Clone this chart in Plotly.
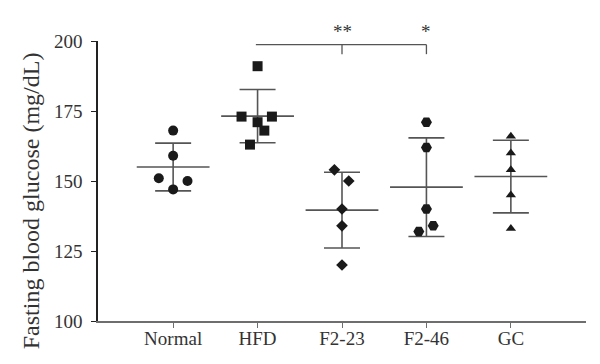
import numpy as np
import plotly.graph_objects as go

# ---- data ----
groups = ["Normal", "HFD", "F2-23", "F2-46", "GC"]
normal = [168, 159, 151, 150, 147]
hfd = [191, 173, 173, 171, 168, 163]
f2_23 = [154, 150, 140, 134, 120]
f2_46 = [171, 162, 140, 134, 132]
gc = [166, 160, 154, 145, 133]
values = [normal, hfd, f2_23, f2_46, gc]

# horizontal scatter offsets of points within each group (category units)
normal_off = [0, 0, -0.17, 0.17, 0]
hfd_off = [0, -0.19, 0.17, 0, 0.08, -0.09]
f2_23_off = [-0.09, 0.08, 0, 0, 0]
f2_46_off = [0, 0, 0, 0.08, -0.09]
gc_off = [0, 0, 0, 0, 0]
offsets = [normal_off, hfd_off, f2_23_off, f2_46_off, gc_off]

symbols = ["circle", "square", "diamond", "hexagon2", "triangle-up"]
sizes = [10, 10, 9, 11, 9]

sig_labels = ["**", "*"]
sig_groups = [2, 3]

y_title = "Fasting blood glucose (mg/dL)"

MARK = "#1a1a1a"
LINE = "#555555"
FONT = "Liberation Serif, Times New Roman, serif"

fig = go.Figure()

for i, (vals, offs) in enumerate(zip(values, offsets)):
    v = np.array(vals, dtype=float)
    m = v.mean()
    sd = v.std(ddof=1)
    # mean line with SD error bar
    fig.add_trace(go.Scatter(
        x=[i], y=[m], mode="markers",
        marker=dict(symbol="line-ew-open", size=52, color=LINE,
                    line=dict(color=LINE, width=1.6)),
        error_y=dict(type="data", array=[sd], visible=True,
                     color=LINE, thickness=1.6, width=18),
        showlegend=False, hoverinfo="skip"))
    # individual points
    fig.add_trace(go.Scatter(
        x=[i + o for o in offs], y=vals, mode="markers",
        marker=dict(symbol=symbols[i], size=sizes[i], color=MARK,
                    line=dict(width=0)),
        showlegend=False, name=groups[i]))

# significance bracket from HFD to F2-46
by = 198.7
bt = 195.3
fig.add_shape(type="line", x0=0.98, x1=3, y0=by, y1=by,
              line=dict(color=LINE, width=1.3), xref="x", yref="y")
for g, lab in zip(sig_groups, sig_labels):
    fig.add_shape(type="line", x0=g, x1=g, y0=by, y1=bt,
                  line=dict(color=LINE, width=1.3), xref="x", yref="y")
    fig.add_annotation(x=g, y=by, text=lab, showarrow=False, yanchor="bottom",
                       yshift=1, font=dict(family=FONT, size=19, color="#333"))

# y-axis title (placed slightly below plot centre as in the reference)
fig.add_annotation(xref="paper", yref="paper", x=-0.138, y=0.43,
                   text=y_title, textangle=-90, showarrow=False,
                   xanchor="center", yanchor="middle",
                   font=dict(family=FONT, size=24, color="#333"))

fig.update_layout(
    width=600, height=364,
    margin=dict(l=90, r=22, t=33, b=51),
    plot_bgcolor="white", paper_bgcolor="white",
    font=dict(family=FONT, color="#333"),
    xaxis=dict(
        range=[-0.89, 4.89], tickmode="array",
        tickvals=list(range(len(groups))), ticktext=groups,
        showline=True, linecolor="#6e6e6e", linewidth=1.5,
        ticks="outside", ticklen=5, tickcolor="#6e6e6e", tickwidth=1.2,
        showgrid=False, zeroline=False, ticklabelstandoff=-6,
        tickfont=dict(family=FONT, size=19, color="#333")),
    yaxis=dict(
        range=[100, 200], tickvals=[100, 125, 150, 175, 200],
        showline=True, linecolor="#222", linewidth=1.5,
        ticks="outside", ticklen=5, tickcolor="#222", tickwidth=1.2,
        showgrid=False, zeroline=False, ticklabelstandoff=5,
        tickfont=dict(family=FONT, size=19, color="#333")),
)

fig.write_html("out.html")
